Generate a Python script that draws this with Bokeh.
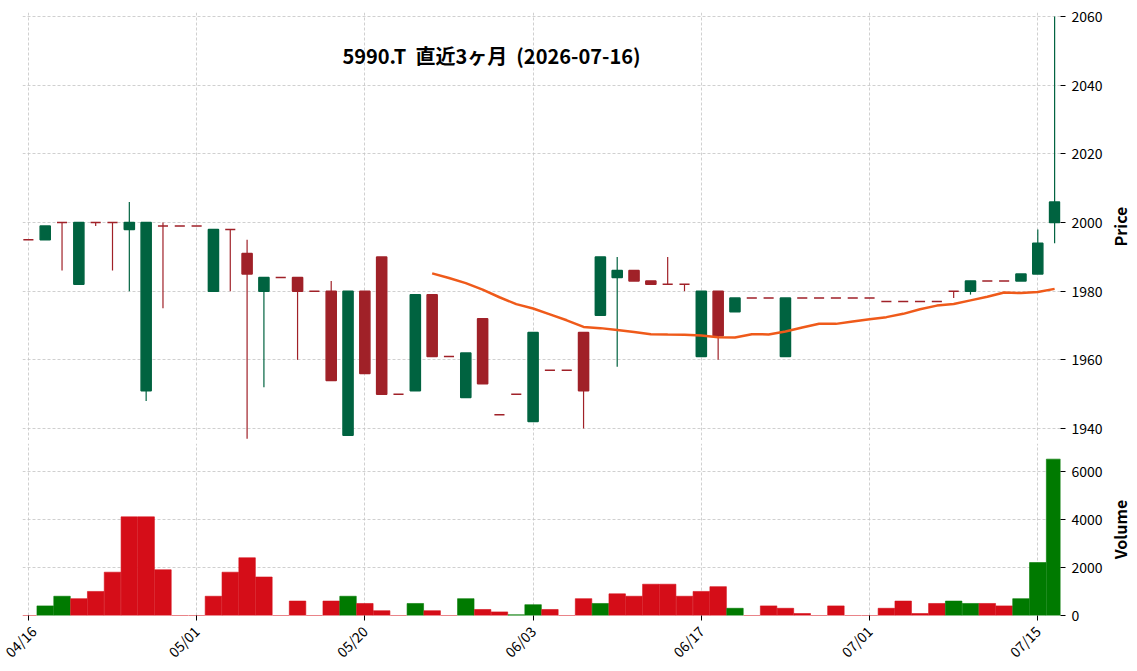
import math
import numpy as np
import pandas as pd
from bokeh.plotting import figure
from bokeh.layouts import column, row
from bokeh.models import (ColumnDataSource, Range1d, FixedTicker, Grid, Label)
from bokeh.core.properties import value
from bokeh.embed import file_html
from bokeh.resources import INLINE

# ---------------- data ----------------
dates = ["04/16", "04/17", "04/20", "04/21", "04/22", "04/23", "04/24", "04/27", "04/28", "04/30",
         "05/01", "05/07", "05/08", "05/11", "05/12", "05/13", "05/14", "05/15", "05/18", "05/19",
         "05/20", "05/21", "05/22", "05/25", "05/26", "05/27", "05/28", "05/29", "06/01", "06/02",
         "06/03", "06/04", "06/05", "06/08", "06/09", "06/10", "06/11", "06/12", "06/15", "06/16",
         "06/17", "06/18", "06/19", "06/22", "06/23", "06/24", "06/25", "06/26", "06/29", "06/30",
         "07/01", "07/02", "07/03", "07/06", "07/07", "07/08", "07/09", "07/10", "07/13", "07/14",
         "07/15", "07/16"]
opens = [1995, 1995, 2000, 1982, 2000, 2000, 1998, 1951, 1999, 1999,
         1999, 1980, 1998, 1991, 1980, 1984, 1984, 1980, 1980, 1938,
         1980, 1990, 1950, 1951, 1979, 1961, 1949, 1972, 1944, 1950,
         1942, 1957, 1957, 1968, 1973, 1984, 1986, 1983, 1982, 1982,
         1961, 1980, 1974, 1978, 1978, 1961, 1978, 1978, 1978, 1978,
         1978, 1977, 1977, 1977, 1977, 1980, 1980, 1983, 1983, 1983,
         1985, 2000]
highs = [1995, 1999, 2000, 2000, 2000, 2000, 2006, 2000, 2000, 1999,
         1999, 1998, 1998, 1995, 1984, 1984, 1984, 1980, 1983, 1980,
         1980, 1990, 1950, 1979, 1979, 1961, 1962, 1972, 1944, 1950,
         1968, 1957, 1957, 1968, 1990, 1990, 1986, 1983, 1990, 1982,
         1980, 1980, 1978, 1978, 1978, 1978, 1978, 1978, 1978, 1978,
         1978, 1977, 1977, 1977, 1977, 1980, 1983, 1983, 1983, 1985,
         1998, 2060]
lows = [1995, 1995, 1986, 1982, 1999, 1986, 1980, 1948, 1975, 1999,
        1999, 1980, 1980, 1937, 1952, 1984, 1960, 1980, 1954, 1938,
        1956, 1950, 1950, 1951, 1961, 1961, 1949, 1953, 1944, 1950,
        1942, 1957, 1957, 1940, 1973, 1958, 1983, 1982, 1982, 1980,
        1961, 1960, 1974, 1978, 1978, 1961, 1978, 1978, 1978, 1978,
        1978, 1977, 1977, 1977, 1977, 1978, 1979, 1983, 1983, 1983,
        1985, 1994]
closes = [1995, 1999, 2000, 2000, 2000, 2000, 2000, 2000, 1999, 1999,
          1999, 1998, 1998, 1985, 1984, 1984, 1980, 1980, 1954, 1980,
          1956, 1950, 1950, 1979, 1961, 1961, 1962, 1953, 1944, 1950,
          1968, 1957, 1957, 1951, 1990, 1986, 1983, 1982, 1982, 1982,
          1980, 1967, 1978, 1978, 1978, 1978, 1978, 1978, 1978, 1978,
          1978, 1977, 1977, 1977, 1977, 1980, 1983, 1983, 1983, 1985,
          1994, 2006]
volumes = [0, 400, 800, 700, 1000, 1800, 4100, 4100, 1900, 0,
           0, 800, 1800, 2400, 1600, 0, 600, 0, 600, 800,
           500, 200, 0, 500, 200, 0, 700, 250, 150, 30,
           450, 250, 0, 700, 500, 900, 800, 1300, 1300, 800,
           1000, 1200, 300, 0, 400, 300, 80, 0, 400, 0,
           0, 300, 600, 80, 500, 600, 500, 500, 400, 700,
           2200, 6500]

tick_idx = [0, 10, 20, 30, 40, 50, 60]
tick_labels = ["04/16", "05/01", "05/20", "06/03", "06/17", "07/01", "07/15"]
price_ticks = [1940, 1960, 1980, 2000, 2020, 2040, 2060]
volume_ticks = [0, 2000, 4000, 6000]
title_text = "5990.T\u00a0\u00a0直近3ヶ月\u00a0\u00a0(2026-07-16)"
price_label = "Price"
volume_label = "Volume"
ma_window = 25

# ---------------- derived ----------------
FONT = "Noto Sans CJK JP"
UP_C, DN_C = "#006340", "#a02128"
VUP_C, VDN_C = "#007a00", "#d50d18"

n = len(closes)
idx = np.arange(n)
o = np.array(opens, float)
h = np.array(highs, float)
l = np.array(lows, float)
c = np.array(closes, float)
up = c > o
ccol = [UP_C if u else DN_C for u in up]
vup = [o[0] < c[0]] + [c[i - 1] < c[i] for i in range(1, n)]
vcol = [VUP_C if u else VDN_C for u in vup]
ma = pd.Series(c).rolling(ma_window).mean().to_numpy()

src = ColumnDataSource(dict(x=idx, o=o, h=h, l=l, c=c,
                            top=np.maximum(o, c), bot=np.minimum(o, c),
                            col=ccol, vol=volumes, vcol=vcol, ma=ma))

# layout constants
W_MAIN = 1105
W_LAB = 1137 - W_MAIN
H_P, H_V = 440, 231
BORDER_L, BORDER_R = 22, 44
P_TOP = 12
V_TOP, V_BOT = 3, 56

xr = Range1d(-0.35, n - 1 + 0.35)
GRID_C = "#c4c4c4"


def style_grid(fig, xt, yt):
    fig.grid.visible = False
    fig.add_layout(Grid(dimension=0, ticker=FixedTicker(ticks=xt), grid_line_color=GRID_C,
                        grid_line_dash="3 2", grid_line_width=0.8))
    fig.add_layout(Grid(dimension=1, ticker=FixedTicker(ticks=yt), grid_line_color=GRID_C,
                        grid_line_dash="3 2", grid_line_width=0.8))


def style_yaxis(ax, ticks):
    ax.ticker = FixedTicker(ticks=ticks)
    ax.axis_line_color = None
    ax.major_tick_in = 0
    ax.major_tick_out = 5
    ax.major_tick_line_color = "black"
    ax.minor_tick_line_color = None
    ax.major_label_text_font = FONT
    ax.major_label_text_font_size = "14px"
    ax.major_label_text_color = "black"
    ax.major_label_standoff = 6


def label_fig(height, text, center_from_top):
    f = figure(width=W_LAB, height=height, x_range=Range1d(0, W_LAB), y_range=Range1d(0, height),
               output_backend="svg", toolbar_location=None, x_axis_location=None,
               y_axis_location=None, min_border=0, outline_line_color=None,
               background_fill_color="white", border_fill_color="white")
    f.grid.visible = False
    f.text(x=[W_LAB / 2 - 2], y=[height - center_from_top], text=[text], angle=math.pi / 2,
           text_align="center", text_baseline="middle", text_font=value(FONT),
           text_font_size="16px", text_font_style="bold", text_color="black")
    return f


# ---------------- price panel ----------------
p = figure(width=W_MAIN, height=H_P, x_range=xr, y_range=Range1d(1936.5, 2061.2),
           output_backend="svg", toolbar_location=None,
           x_axis_location=None, y_axis_location="right",
           min_border_left=BORDER_L, min_border_right=BORDER_R, min_border_top=P_TOP,
           min_border_bottom=0,
           outline_line_color=None, background_fill_color="white", border_fill_color="white")
style_grid(p, tick_idx, price_ticks)
style_yaxis(p.yaxis[0], price_ticks)

p.segment(x0="x", y0="l", x1="x", y1="h", color="col", line_width=1.2, source=src)
p.vbar(x="x", width=0.6, top="top", bottom="bot", fill_color="col", line_color="col",
       line_width=1.5, source=src)
p.line(x="x", y="ma", color="#ef5a1a", line_width=2.5, source=src)

p.add_layout(Label(x=469, y=385, x_units="screen", y_units="screen", text=title_text,
                   text_align="center", text_baseline="middle", text_font=FONT,
                   text_font_size="20px", text_font_style="bold", text_color="black"))

# ---------------- volume panel ----------------
v = figure(width=W_MAIN, height=H_V, x_range=xr, y_range=Range1d(0, 7150),
           output_backend="svg", toolbar_location=None, y_axis_location="right",
           min_border_left=BORDER_L, min_border_right=BORDER_R, min_border_top=V_TOP,
           min_border_bottom=V_BOT,
           outline_line_color=None, background_fill_color="white", border_fill_color="white")
style_grid(v, tick_idx, volume_ticks)
style_yaxis(v.yaxis[0], volume_ticks)

v.vbar(x="x", width=0.98, top="vol", bottom=0, fill_color="vcol", line_color="vcol",
       line_width=0.6, source=src)

xa = v.xaxis[0]
xa.ticker = FixedTicker(ticks=tick_idx)
xa.major_label_overrides = {t: s for t, s in zip(tick_idx, tick_labels)}
xa.axis_line_color = None
xa.major_tick_in = 0
xa.major_tick_out = 5
xa.major_tick_line_color = "black"
xa.minor_tick_line_color = None
xa.major_label_orientation = math.pi / 4
xa.major_label_standoff = 8
xa.major_label_text_font = FONT
xa.major_label_text_font_size = "14px"
xa.major_label_text_color = "black"

# axis titles in narrow side panels, centred on each plot frame
pl = label_fig(H_P, price_label, (P_TOP + H_P) / 2)
vl = label_fig(H_V, volume_label, V_TOP + (H_V - V_TOP - V_BOT) / 2)

layout = row(column(p, v, spacing=0), column(pl, vl, spacing=0), spacing=0)
open("out.html", "w").write(file_html(layout, INLINE))
